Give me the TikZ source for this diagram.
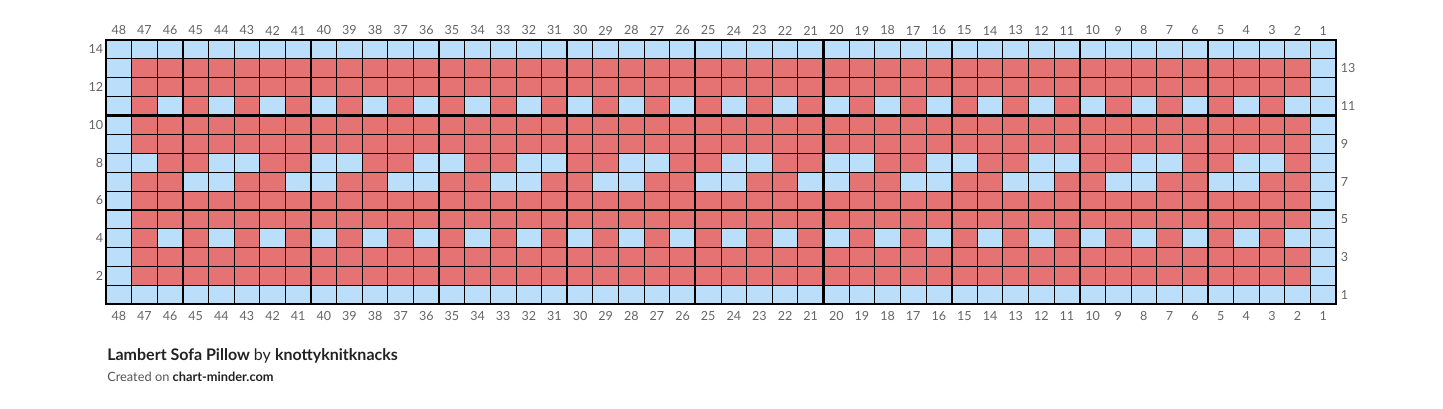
\documentclass[tikz,border=0pt]{standalone}
\usepackage{fontspec}
\setmainfont{Lato}
\usepackage{xcolor}
\usepackage{tikz}
\usetikzlibrary{positioning}
\definecolor{stitchred}{RGB}{229,115,115}
\definecolor{stitchblue}{RGB}{187,222,251}
\definecolor{labelgray}{RGB}{100,100,100}
\definecolor{titleink}{RGB}{34,34,34}
\definecolor{creditgray}{RGB}{85,85,85}
\tikzset{
 bluecell/.style={
 fill=stitchblue
 },
 gridthin/.style={
 draw=black,
 line width=0.75pt
 },
 gridthick/.style={
 draw=black,
 line width=1.6pt
 },
 numlabel/.style={
 inner sep=0pt,
 text=labelgray,
 font=\fontsize{9.4}{11}\selectfont
 },
 titletext/.style={
 inner sep=0pt,
 anchor=base west,
 text=titleink,
 font=\fontsize{12}{14}\selectfont
 },
 credittext/.style={
 inner sep=0pt,
 anchor=base west,
 text=titleink,
 font=\fontsize{9.6}{11}\selectfont
 }
}

\begin{document}
\begin{tikzpicture}[x=19.219pt, y=14.165pt]
 \useasboundingbox (-4.137,-5.486) rectangle (52.176,16.118);

 % chart body
 \fill[stitchred] (0,0) rectangle (48,14);
 \fill[bluecell] (0,0) rectangle (48,1);
 \fill[bluecell] (0,13) rectangle (48,14);
 \fill[bluecell] (0,0) rectangle (1,14);
 \fill[bluecell] (47,0) rectangle (48,14);
 \foreach \c in {2,4,...,46} {
 \fill[bluecell] ({48-\c},3) rectangle ++(1,1);
 \fill[bluecell] ({48-\c},10) rectangle ++(1,1);
 }
 \foreach \c in {3,7,...,43}
 \fill[bluecell] ({47-\c},7) rectangle ({49-\c},8);
 \fill[bluecell] (1,7) rectangle (2,8);
 \foreach \c in {4,8,...,44}
 \fill[bluecell] ({47-\c},6) rectangle ({49-\c},7);

 % grid
 \foreach \i in {0,...,48}
 \draw[gridthin] (\i,0) -- (\i,14);
 \foreach \j in {0,...,14}
 \draw[gridthin] (0,\j) -- (48,\j);
 \foreach \i in {3,8,...,43}
 \draw[gridthick] (\i,0) -- (\i,14);
 \foreach \j in {5,10}
 \draw[gridthick] (0,\j) -- (48,\j);
 \draw[gridthick] (0,0) rectangle (48,14);

 % stitch and row numbers
 \foreach \c in {1,...,48} {
 \node[numlabel] (top\c) at ({48.5-\c},14.503) {\c};
 \node[numlabel] (bot\c) at ({48.5-\c},-0.614) {\c};
 }
 \foreach \r in {2,4,...,14}
 \node[numlabel, anchor=east] (left\r) at (-0.105,{\r-0.5}) {\r};
 \foreach \r in {1,3,...,13}
 \node[numlabel, anchor=west] (right\r) at (48.18,{\r-0.5}) {\r};

 \node[titletext] (title) at (0.04,-2.944) {\textbf{Lambert Sofa Pillow} by \textbf{knottyknitknacks}};
 \node[credittext] (credit) at (0.04,-4.072) {{\color{creditgray}Created on} \textbf{chart-minder.com}};
\end{tikzpicture}
\end{document}
